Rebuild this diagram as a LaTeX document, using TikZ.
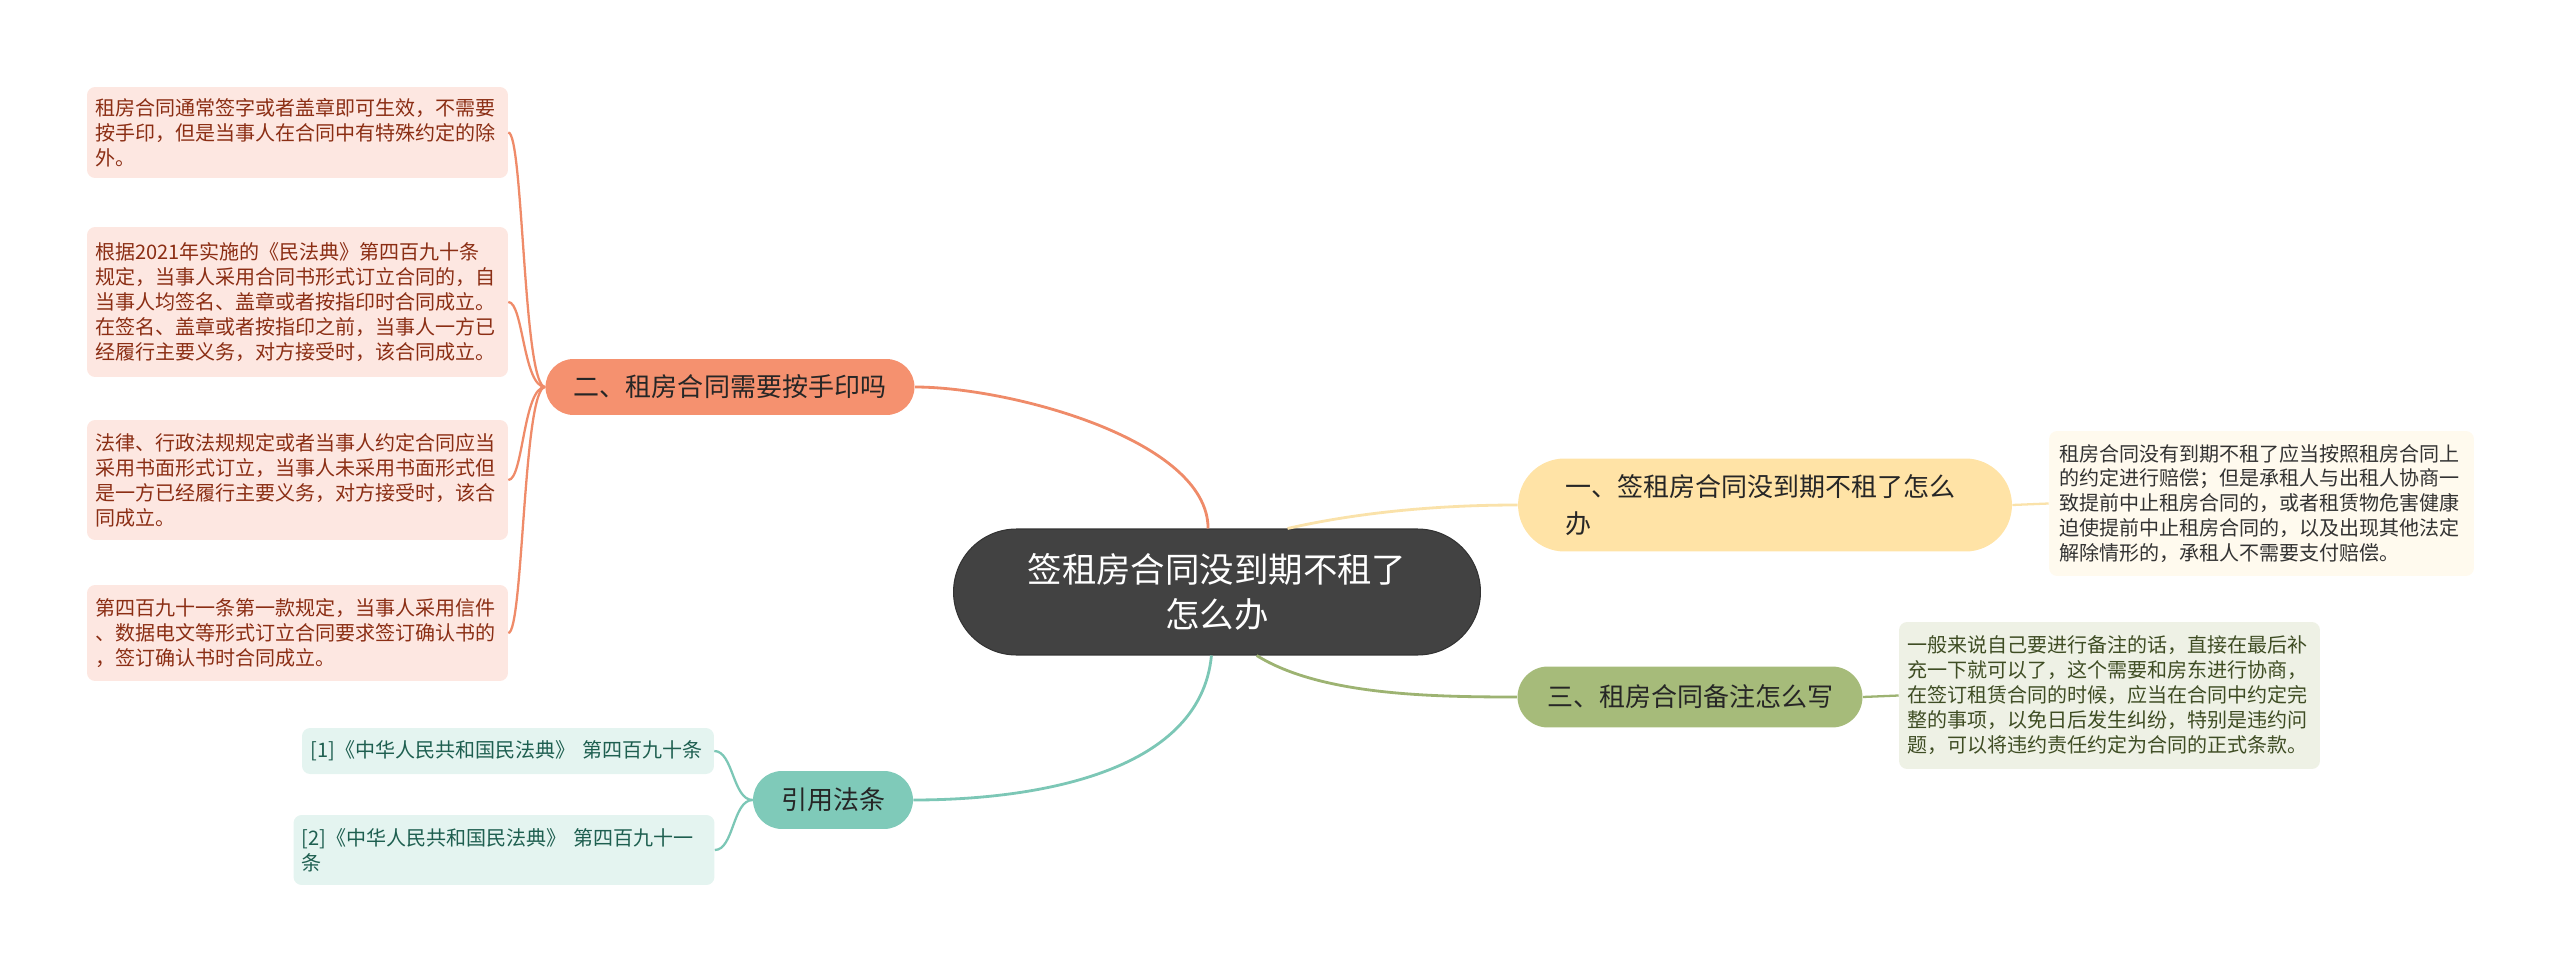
\documentclass[tikz,border=0pt]{standalone}
\usepackage{fontspec}
\setmainfont{Noto Sans CJK SC}

\definecolor{rootgray}{HTML}{424242}
\definecolor{rootedge}{HTML}{333333}
\definecolor{redtopic}{HTML}{F5916F}
\definecolor{redline}{HTML}{EF8B69}
\definecolor{redleaf}{HTML}{FDE7E1}
\definecolor{redtext}{HTML}{8B2E14}
\definecolor{yeltopic}{HTML}{FFE3A6}
\definecolor{yelline}{HTML}{FAE2AA}
\definecolor{yelleaf}{HTML}{FFFAEE}
\definecolor{grntopic}{HTML}{A6BB7A}
\definecolor{grnline}{HTML}{9DB372}
\definecolor{grnleaf}{HTML}{EEF1E5}
\definecolor{grntext}{HTML}{3F4D24}
\definecolor{teatopic}{HTML}{7FCAB9}
\definecolor{tealine}{HTML}{7CC7B6}
\definecolor{tealeaf}{HTML}{E4F4F0}
\definecolor{teatext}{HTML}{1E5F50}

\tikzset{
  root/.style={fill=rootgray, draw=rootedge, line width=0.6pt, text=white,
    rounded corners=1.26cm, minimum width=10.54cm, minimum height=2.52cm,
    align=center, text width=8cm, font=\fontsize{19.6pt}{26pt}\selectfont},
  topic/.style={text=black!85, align=center, inner sep=0pt,
    font=\fontsize{14.8pt}{21pt}\selectfont},
  leaf/.style={rounded corners=0.16cm, align=left, text width=8.1cm,
    inner xsep=0.16cm, font=\fontsize{11.4pt}{14.2pt}\selectfont},
  branch/.style={line width=1.6pt},
  twig/.style={line width=1.3pt}
}

\begin{document}
\begin{tikzpicture}[x=0.02cm,y=-0.02cm]
\useasboundingbox (0,0) rectangle (2560,973);

\node[root] (c) at (1217,592) {签租房合同没到期不租了\\怎么办};

\node[topic, fill=redtopic, rounded corners=0.56cm, minimum width=7.38cm, minimum height=1.12cm] (t2) at (730,387) {二、租房合同需要按手印吗};
\node[topic, fill=yeltopic, rounded corners=0.93cm, minimum width=9.88cm, minimum height=1.86cm, align=left, text width=8cm] (t1) at (1765,505) {一、签租房合同没到期不租了怎么\\办};
\node[topic, fill=grntopic, rounded corners=0.61cm, minimum width=6.9cm, minimum height=1.22cm] (t3) at (1690,697) {三、租房合同备注怎么写};
\node[topic, fill=teatopic, rounded corners=0.58cm, minimum width=3.2cm, minimum height=1.16cm] (cite) at (833,800) {引用法条};

\node[leaf, fill=redleaf, text=redtext, minimum width=8.42cm, minimum height=1.82cm] (l1) at (297.5,132.5) {租房合同通常签字或者盖章即可生效，不需要\\按手印，但是当事人在合同中有特殊约定的除\\外。};
\node[leaf, fill=redleaf, text=redtext, minimum width=8.42cm, minimum height=3cm] (l2) at (297.5,302) {根据2021年实施的《民法典》第四百九十条\\规定，当事人采用合同书形式订立合同的，自\\当事人均签名、盖章或者按指印时合同成立。\\在签名、盖章或者按指印之前，当事人一方已\\经履行主要义务，对方接受时，该合同成立。};
\node[leaf, fill=redleaf, text=redtext, minimum width=8.42cm, minimum height=2.4cm] (l3) at (297.5,480) {法律、行政法规规定或者当事人约定合同应当\\采用书面形式订立，当事人未采用书面形式但\\是一方已经履行主要义务，对方接受时，该合\\同成立。};
\node[leaf, fill=redleaf, text=redtext, minimum width=8.42cm, minimum height=1.92cm] (l4) at (297.5,633) {第四百九十一条第一款规定，当事人采用信件\\、数据电文等形式订立合同要求签订确认书的\\，签订确认书时合同成立。};

\node[leaf, fill=tealeaf, text=teatext, text width=7.9cm, minimum width=8.24cm, minimum height=0.92cm] (r1) at (508,751) {[1]《中华人民共和国民法典》 第四百九十条};
\node[leaf, fill=tealeaf, text=teatext, minimum width=8.4cm, minimum height=1.4cm] (r2) at (504,850) {[2]《中华人民共和国民法典》 第四百九十一\\条};

\node[leaf, fill=yelleaf, text=black!80, minimum width=8.5cm, minimum height=2.9cm] (y1) at (2261.5,503.5) {租房合同没有到期不租了应当按照租房合同上\\的约定进行赔偿；但是承租人与出租人协商一\\致提前中止租房合同的，或者租赁物危害健康\\迫使提前中止租房合同的，以及出现其他法定\\解除情形的，承租人不需要支付赔偿。};
\node[leaf, fill=grnleaf, text=grntext, minimum width=8.42cm, minimum height=2.94cm] (g1) at (2109.5,695.5) {一般来说自己要进行备注的话，直接在最后补\\充一下就可以了，这个需要和房东进行协商，\\在签订租赁合同的时候，应当在合同中约定完\\整的事项，以免日后发生纠纷，特别是违约问\\题，可以将违约责任约定为合同的正式条款。};

\draw[branch, redline] (c.98) .. controls (1208,440) and (1010,387) .. (t2.east);
\draw[branch, yelline] (c.42) .. controls (1360,512) and (1440,505) .. (t1.west);
\draw[branch, grnline] (c.-58) .. controls (1320,695) and (1430,697) .. (t3.west);
\draw[branch, tealine] (c.-95) .. controls (1200,775) and (1030,800) .. (cite.east);

\foreach \leafname in {l1,l2,l3,l4} {
  \draw[twig, redline] (t2.west) .. controls +(-22,0) and +(15,0) .. (\leafname.east);
}
\foreach \leafname in {r1,r2} {
  \draw[twig, tealine] (cite.west) .. controls +(-20,0) and +(19,0) .. (\leafname.east);
}
\draw[twig, yelline] (t1.east) -- (y1.west);
\draw[twig, grnline] (t3.east) -- (g1.west);
\end{tikzpicture}
\end{document}
